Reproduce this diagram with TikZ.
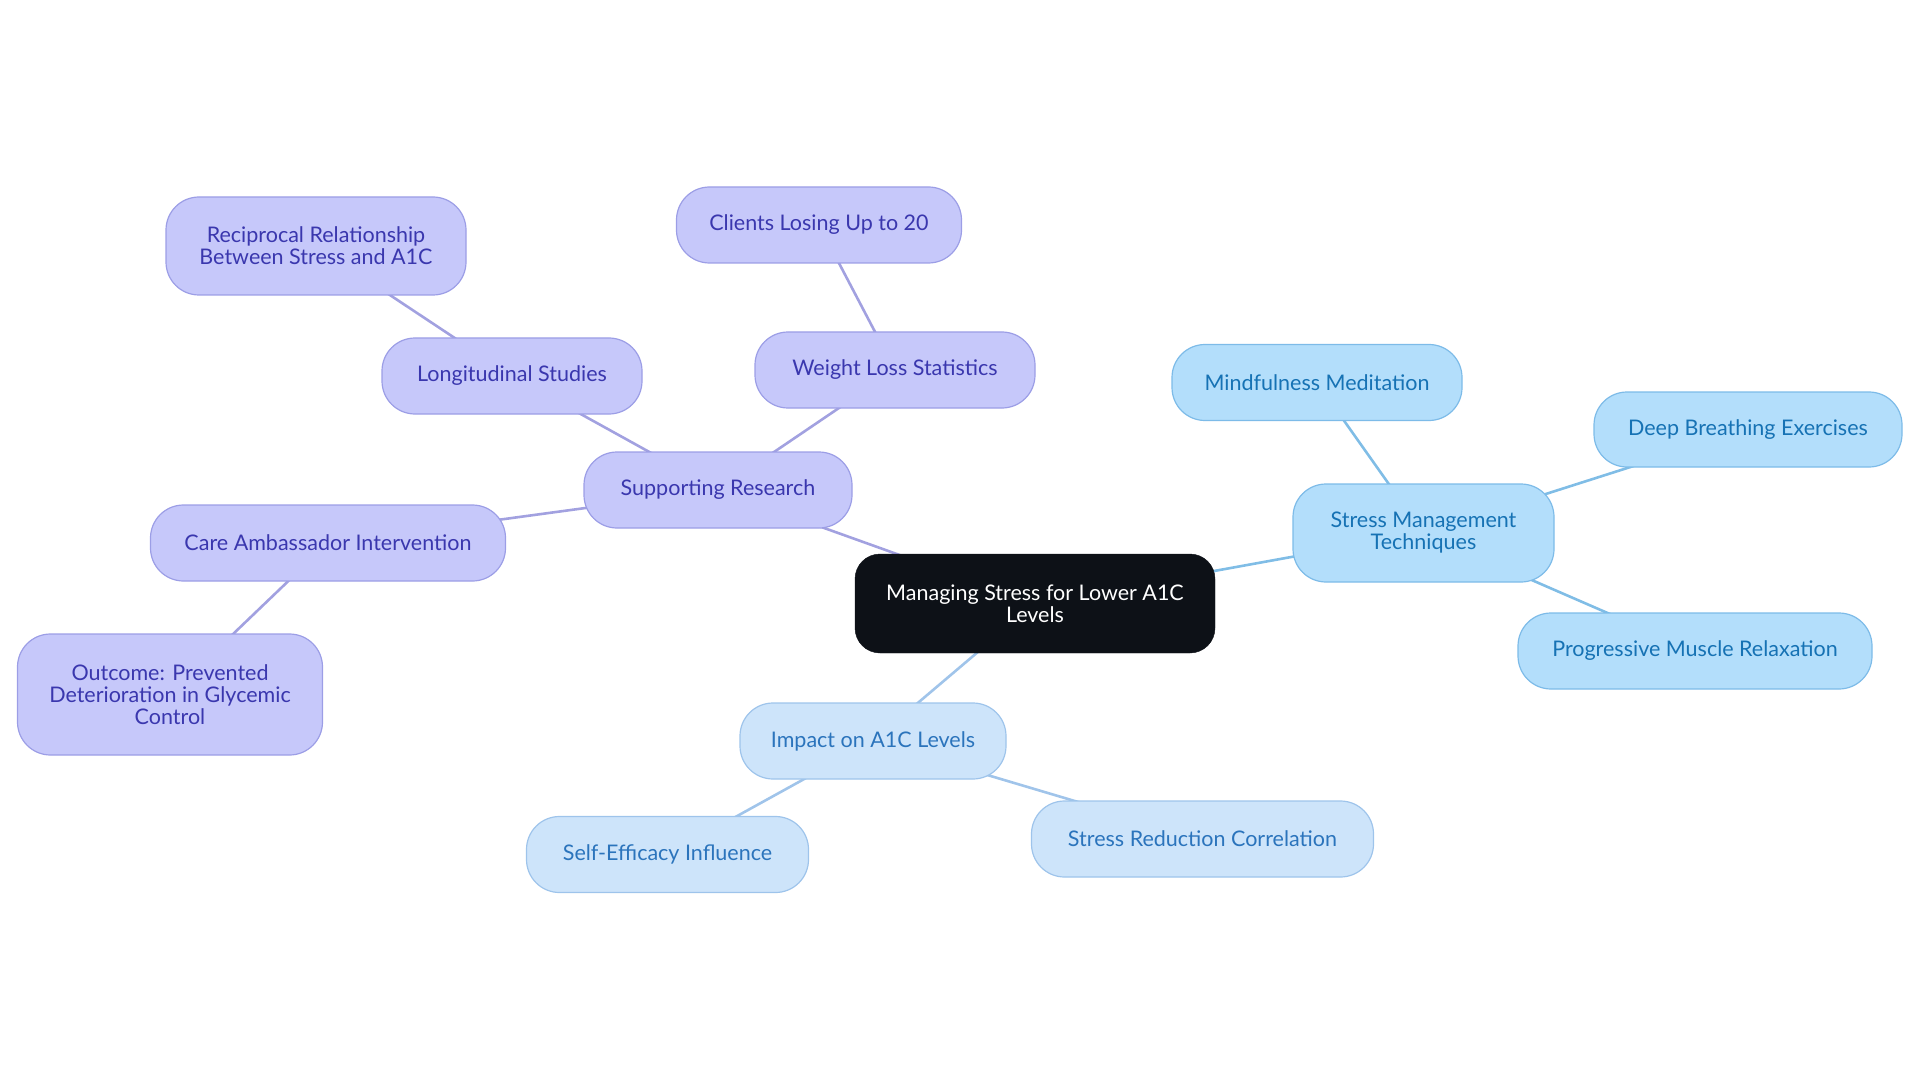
\documentclass[tikz,border=0pt]{standalone}
\usepackage{fontspec}
\setmainfont{Lato}
\usetikzlibrary{backgrounds}
\definecolor{pfill}{HTML}{C6C8FA}
\definecolor{pdraw}{HTML}{9C9EE6}
\definecolor{ptext}{HTML}{3A37AE}
\definecolor{pedge}{HTML}{A2A1E0}
\definecolor{bfill}{HTML}{B3DEFB}
\definecolor{bdraw}{HTML}{7DBBE8}
\definecolor{btext}{HTML}{1672B4}
\definecolor{bedge}{HTML}{80BDE6}
\definecolor{lfill}{HTML}{CDE4FA}
\definecolor{ldraw}{HTML}{9EC4EB}
\definecolor{ltext}{HTML}{2B74BC}
\definecolor{ledge}{HTML}{A0C4EA}
\definecolor{mfill}{HTML}{0D1117}
\begin{document}
\begin{tikzpicture}[x=1pt,y=-1pt,
  every node/.style={font=\fontsize{21.5}{22}\selectfont, align=center, inner sep=0pt},
  basebox/.style={rectangle, rounded corners=33pt, line width=1.2pt},
  pbox/.style={basebox, fill=pfill, draw=pdraw, text=ptext},
  bbox/.style={basebox, fill=bfill, draw=bdraw, text=btext},
  lbox/.style={basebox, fill=lfill, draw=ldraw, text=ltext},
  mbox/.style={rectangle, rounded corners=25pt, fill=mfill, draw=mfill, text=white},
  sz/.style 2 args={minimum width=#1pt, minimum height=#2pt},
  pline/.style={draw=pedge, line width=2.6pt},
  bline/.style={draw=bedge, line width=2.6pt},
  lline/.style={draw=ledge, line width=2.6pt}]
\useasboundingbox (0,0) rectangle (1920,1083);

\node[mbox, sz={360}{99}] (main) at (1035,603.5) {Managing Stress for Lower A1C\\Levels};

\node[pbox, sz={268}{76}] (sr) at (718,490) {Supporting Research};
\node[pbox, sz={260}{76}] (ls) at (512,376) {Longitudinal Studies};
\node[pbox, sz={300}{98}] (rec) at (316,246) {Reciprocal Relationship\\Between Stress and A1C};
\node[pbox, sz={280}{76}] (wl) at (895,370) {Weight Loss Statistics};
\node[pbox, sz={285}{76}] (cl) at (819,225) {Clients Losing Up to 20};
\node[pbox, sz={355}{76}] (ca) at (328,543) {Care Ambassador Intervention};
\node[pbox, sz={305}{121}] (out) at (170,694.5) {Outcome: Prevented\\Deterioration in Glycemic\\Control};

\node[bbox, sz={261}{98}] (smt) at (1423.5,533) {Stress Management\\Techniques};
\node[bbox, sz={290}{76}] (mm) at (1317,382.5) {Mindfulness Meditation};
\node[bbox, sz={308}{75}] (db) at (1748,429.5) {Deep Breathing Exercises};
\node[bbox, sz={354}{76}] (pmr) at (1695,651) {Progressive Muscle Relaxation};

\node[lbox, sz={266}{76}] (imp) at (873,741) {Impact on A1C Levels};
\node[lbox, sz={282}{76}] (se) at (667.5,854.5) {Self-Efficacy Influence};
\node[lbox, sz={342}{76}] (src) at (1202.5,839) {Stress Reduction Correlation};

\begin{scope}[on background layer]
\draw[pline] (main.center) -- (sr.center);
\draw[pline] (sr.center) -- (ls.center);
\draw[pline] (ls.center) -- (rec.center);
\draw[pline] (sr.center) -- (wl.center);
\draw[pline] (wl.center) -- (cl.center);
\draw[pline] (sr.center) -- (ca.center);
\draw[pline] (ca.center) -- (out.center);
\draw[bline] (main.center) -- (smt.center);
\draw[bline] (smt.center) -- (mm.center);
\draw[bline] (smt.center) -- (db.center);
\draw[bline] (smt.center) -- (pmr.center);
\draw[lline] (main.center) -- (imp.center);
\draw[lline] (imp.center) -- (se.center);
\draw[lline] (imp.center) -- (src.center);
\end{scope}
\end{tikzpicture}
\end{document}
